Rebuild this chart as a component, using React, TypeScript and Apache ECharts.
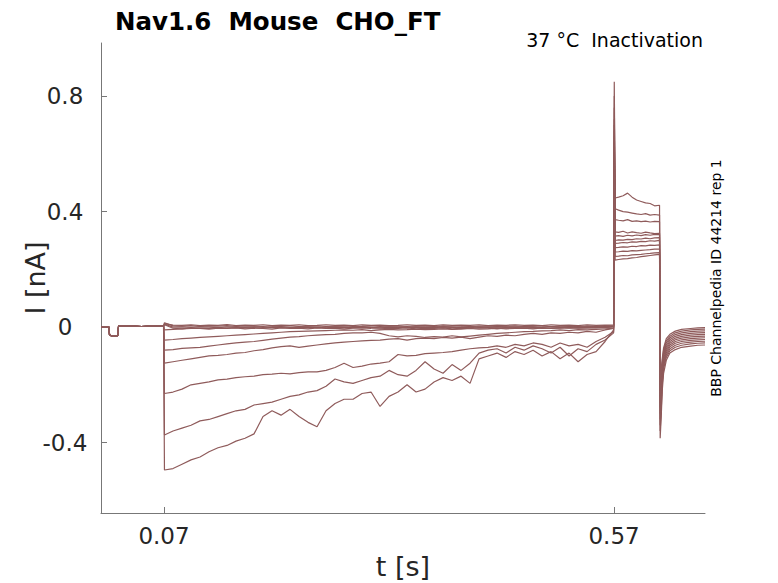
import React, { useEffect, useRef } from "react";
import * as echarts from "echarts";

// shared baseline before the conditioning step (s)
const preT = [0, 0.004, 0.0088, 0.0095, 0.014, 0.0185, 0.0195, 0.03, 0.045, 0.06, 0.0695];
const preI = [0.0, 0.002, 0.0, -0.028, -0.032, -0.03, 0.003, 0.004, 0.002, 0.004, 0.003];

// conditioning step 0.07 .. 0.57 s
const holdT = [
  0.0705, 0.08, 0.09, 0.1, 0.11, 0.12, 0.13, 0.14, 0.15, 0.16,
  0.17, 0.18, 0.19, 0.2, 0.21, 0.22, 0.23, 0.24, 0.25, 0.26,
  0.27, 0.28, 0.29, 0.3, 0.31, 0.32, 0.33, 0.34, 0.35, 0.36,
  0.37, 0.38, 0.39, 0.4, 0.41, 0.42, 0.43, 0.44, 0.45, 0.46,
  0.47, 0.48, 0.49, 0.5, 0.51, 0.52, 0.53, 0.54, 0.55, 0.56, 0.5695,
];
// test step
const testT = [0.5702, 0.5712, 0.575, 0.58, 0.585, 0.59, 0.595, 0.6, 0.605, 0.61, 0.615, 0.6205];
// tail after the test step
const tailT = [0.6212, 0.6225, 0.6235, 0.625, 0.628, 0.632, 0.638, 0.645, 0.655, 0.663, 0.671];

// current in nA at holdT + testT + tailT, one array per sweep
const sweep01 = [
  -0.495, -0.49, -0.475, -0.46, -0.45, -0.432, -0.418, -0.41, -0.395, -0.385,
  -0.37, -0.31, -0.29, -0.305, -0.285, -0.31, -0.33, -0.345, -0.29, -0.265,
  -0.25, -0.25, -0.23, -0.225, -0.275, -0.24, -0.225, -0.2, -0.225, -0.215,
  -0.19, -0.175, -0.185, -0.17, -0.195, -0.11, -0.1, -0.09, -0.105, -0.085,
  -0.095, -0.08, -0.1, -0.085, -0.11, -0.09, -0.12, -0.095, -0.085, -0.05, -0.01,
  0.85, 0.447, 0.45, 0.455, 0.464, 0.45, 0.44, 0.435, 0.43, 0.428, 0.42, 0.422,
  -0.385, -0.3, -0.22, -0.16, -0.115, -0.09, -0.078, -0.07, -0.066, -0.063, -0.062,
];
const sweep02 = [
  -0.374, -0.36, -0.35, -0.34, -0.325, -0.32, -0.31, -0.3, -0.29, -0.285,
  -0.27, -0.265, -0.26, -0.25, -0.24, -0.235, -0.225, -0.22, -0.205, -0.18,
  -0.19, -0.195, -0.185, -0.175, -0.17, -0.15, -0.165, -0.17, -0.15, -0.12,
  -0.145, -0.16, -0.13, -0.15, -0.125, -0.09, -0.08, -0.075, -0.09, -0.07,
  -0.08, -0.065, -0.075, -0.09, -0.07, -0.1, -0.075, -0.085, -0.06, -0.045, -0.02,
  0.8, 0.41, 0.405, 0.4, 0.398, 0.395, 0.392, 0.39, 0.393, 0.388, 0.39, 0.388,
  -0.36, -0.28, -0.2, -0.145, -0.105, -0.082, -0.07, -0.063, -0.058, -0.056, -0.055,
];
const sweep03 = [
  -0.23, -0.225, -0.215, -0.2, -0.195, -0.19, -0.183, -0.18, -0.175, -0.172,
  -0.17, -0.165, -0.163, -0.16, -0.162, -0.158, -0.155, -0.155, -0.15, -0.14,
  -0.125, -0.14, -0.135, -0.128, -0.125, -0.12, -0.095, -0.1, -0.098, -0.092,
  -0.09, -0.088, -0.085, -0.08, -0.075, -0.072, -0.07, -0.065, -0.07, -0.06,
  -0.065, -0.055, -0.06, -0.07, -0.055, -0.065, -0.06, -0.07, -0.05, -0.035, -0.015,
  0.76, 0.372, 0.37, 0.368, 0.372, 0.366, 0.368, 0.365, 0.367, 0.364, 0.366, 0.365,
  -0.34, -0.26, -0.19, -0.135, -0.097, -0.075, -0.063, -0.056, -0.052, -0.05, -0.049,
];
const sweep04 = [
  -0.125, -0.12, -0.115, -0.11, -0.105, -0.1, -0.098, -0.095, -0.09, -0.088,
  -0.082, -0.078, -0.072, -0.068, -0.065, -0.07, -0.066, -0.062, -0.058, -0.055,
  -0.052, -0.05, -0.048, -0.046, -0.045, -0.042, -0.04, -0.045, -0.04, -0.038,
  -0.04, -0.036, -0.038, -0.035, -0.04, -0.035, -0.03, -0.032, -0.028, -0.03,
  -0.025, -0.022, -0.025, -0.02, -0.022, -0.018, -0.02, -0.015, -0.018, -0.01, -0.005,
  0.72, 0.33, 0.328, 0.332, 0.326, 0.33, 0.327, 0.325, 0.329, 0.326, 0.324, 0.325,
  -0.32, -0.245, -0.18, -0.125, -0.09, -0.068, -0.056, -0.05, -0.046, -0.044, -0.043,
];
const sweep05 = [
  -0.08, -0.078, -0.074, -0.072, -0.07, -0.066, -0.062, -0.058, -0.055, -0.052,
  -0.05, -0.046, -0.042, -0.038, -0.035, -0.033, -0.03, -0.028, -0.026, -0.025,
  -0.022, -0.02, -0.02, -0.018, -0.022, -0.03, -0.034, -0.03, -0.032, -0.036,
  -0.033, -0.035, -0.03, -0.034, -0.031, -0.028, -0.025, -0.022, -0.02, -0.018,
  -0.016, -0.015, -0.013, -0.012, -0.01, -0.012, -0.009, -0.01, -0.008, -0.006, -0.004,
  0.7, 0.315, 0.317, 0.314, 0.318, 0.316, 0.319, 0.317, 0.32, 0.318, 0.321, 0.32,
  -0.3, -0.23, -0.17, -0.118, -0.083, -0.062, -0.05, -0.044, -0.04, -0.038, -0.037,
];
const sweep06 = [
  -0.045, -0.043, -0.04, -0.038, -0.036, -0.034, -0.032, -0.03, -0.028, -0.026,
  -0.024, -0.022, -0.02, -0.018, -0.016, -0.015, -0.014, -0.013, -0.012, -0.011,
  -0.01, -0.011, -0.009, -0.012, -0.01, -0.008, -0.01, -0.009, -0.007, -0.009,
  -0.008, -0.006, -0.008, -0.007, -0.005, -0.007, -0.006, -0.004, -0.006, -0.005,
  -0.004, -0.006, -0.003, -0.005, -0.004, -0.002, -0.004, -0.003, -0.002, -0.001, 0.0,
  0.68, 0.3, 0.302, 0.301, 0.304, 0.303, 0.306, 0.305, 0.308, 0.306, 0.309, 0.31,
  -0.28, -0.215, -0.16, -0.11, -0.076, -0.056, -0.044, -0.038, -0.034, -0.032, -0.031,
];
const sweep07 = [
  -0.01, -0.008, -0.006, -0.005, -0.004, -0.005, -0.003, -0.004, -0.002, -0.003,
  -0.002, -0.004, -0.001, -0.002, -0.003, 0.0, -0.002, -0.001, -0.003, 0.0,
  -0.001, -0.002, 0.0, -0.001, -0.003, -0.001, 0.0, -0.002, -0.001, 0.0,
  -0.002, 0.001, -0.001, 0.0, -0.002, 0.001, -0.001, 0.0, 0.001, -0.001,
  0.0, 0.001, -0.001, 0.001, 0.0, 0.002, -0.001, 0.001, 0.0, 0.002, 0.003,
  0.66, 0.29, 0.291, 0.293, 0.292, 0.295, 0.294, 0.297, 0.296, 0.299, 0.298, 0.3,
  -0.26, -0.2, -0.15, -0.102, -0.069, -0.05, -0.038, -0.032, -0.028, -0.026, -0.025,
];
const sweep08 = [
  0.015, 0.004, 0.003, 0.005, 0.002, 0.004, 0.003, 0.005, 0.002, 0.004,
  0.003, 0.002, 0.004, 0.003, 0.005, 0.002, 0.003, 0.004, 0.002, 0.003,
  0.004, 0.002, 0.003, 0.005, 0.002, 0.004, 0.003, 0.002, 0.004, 0.003,
  0.002, 0.004, 0.003, 0.005, 0.002, 0.003, 0.004, 0.002, 0.003, 0.004,
  0.002, 0.003, 0.005, 0.002, 0.004, 0.003, 0.002, 0.004, 0.003, 0.005, 0.004,
  0.64, 0.275, 0.276, 0.278, 0.277, 0.28, 0.279, 0.282, 0.281, 0.284, 0.283, 0.285,
  -0.24, -0.185, -0.14, -0.095, -0.062, -0.044, -0.032, -0.026, -0.022, -0.02, -0.019,
];
const sweep09 = [
  0.012, 0.007, 0.006, 0.008, 0.005, 0.007, 0.006, 0.009, 0.005, 0.007,
  0.006, 0.008, 0.005, 0.007, 0.006, 0.008, 0.005, 0.006, 0.008, 0.006,
  0.007, 0.005, 0.008, 0.006, 0.007, 0.005, 0.006, 0.008, 0.006, 0.007,
  0.005, 0.008, 0.006, 0.007, 0.006, 0.008, 0.005, 0.007, 0.006, 0.008,
  0.006, 0.007, 0.005, 0.008, 0.006, 0.007, 0.005, 0.008, 0.006, 0.007, 0.008,
  0.62, 0.26, 0.261, 0.263, 0.262, 0.265, 0.264, 0.266, 0.267, 0.268, 0.27, 0.27,
  -0.22, -0.17, -0.13, -0.088, -0.055, -0.038, -0.026, -0.02, -0.016, -0.014, -0.013,
];
const sweep10 = [
  0.01, 0.0, 0.001, -0.001, 0.001, 0.0, -0.002, 0.001, 0.0, -0.001,
  0.001, -0.001, 0.0, 0.002, -0.001, 0.0, 0.001, -0.002, 0.0, 0.001,
  -0.001, 0.0, 0.002, -0.001, 0.0, 0.001, -0.001, 0.0, 0.001, -0.002,
  0.0, 0.001, -0.001, 0.0, 0.002, -0.001, 0.0, 0.001, -0.001, 0.0,
  0.001, -0.001, 0.0, 0.002, 0.0, -0.001, 0.001, 0.0, 0.002, 0.001, 0.003,
  0.6, 0.245, 0.246, 0.248, 0.247, 0.25, 0.251, 0.252, 0.254, 0.255, 0.257, 0.258,
  -0.2, -0.155, -0.12, -0.08, -0.048, -0.032, -0.02, -0.014, -0.01, -0.008, -0.007,
];
const sweep11 = [
  0.008, -0.004, -0.006, -0.003, -0.005, -0.007, -0.004, -0.005, -0.003, -0.006,
  -0.004, -0.005, -0.007, -0.003, -0.005, -0.004, -0.006, -0.003, -0.005, -0.004,
  -0.006, -0.004, -0.003, -0.005, -0.006, -0.004, -0.005, -0.003, -0.006, -0.004,
  -0.005, -0.003, -0.006, -0.004, -0.005, -0.003, -0.004, -0.006, -0.003, -0.005,
  -0.004, -0.003, -0.005, -0.004, -0.002, -0.004, -0.003, -0.002, -0.003, -0.001, 0.002,
  0.58, 0.232, 0.234, 0.236, 0.237, 0.24, 0.241, 0.244, 0.246, 0.248, 0.25, 0.252,
  -0.18, -0.14, -0.11, -0.072, -0.04, -0.025, -0.014, -0.008, -0.005, -0.003, -0.002,
];

const sweeps = [
  sweep01, sweep02, sweep03, sweep04, sweep05, sweep06,
  sweep07, sweep08, sweep09, sweep10, sweep11,
];

const xTicks = [0.07, 0.57];
const yTicks = [-0.4, 0, 0.4, 0.8];

const traceColor = "#8f5b5b";
const font = "DejaVu Sans";

const App: React.FC = () => {
  const chartRef = useRef<HTMLDivElement | null>(null);

  useEffect(() => {
    if (!chartRef.current) return;
    document.body.style.margin = "0";

    const chart = echarts.init(chartRef.current, null, { renderer: "svg" });
    const stepT = [...holdT, ...testT, ...tailT];

    const series = sweeps.map((s) => ({
      type: "line" as const,
      data: [
        ...preT.map((t, i) => [t, preI[i]]),
        ...stepT.map((t, i) => [t, s[i]]),
      ],
      showSymbol: false,
      symbol: "none",
      lineStyle: { color: traceColor, width: 1.2 },
      itemStyle: { color: traceColor },
    }));

    const option: any = {
      animation: false,
      backgroundColor: "#ffffff",
      textStyle: { fontFamily: font },
      title: {
        text: "Nav1.6  Mouse  CHO_FT",
        left: 110,
        top: 4,
        textStyle: { fontSize: 24.5, fontWeight: "bold", color: "#000", fontFamily: font },
      },
      grid: { left: 101, right: 73, top: 43, bottom: 70, outerBoundsMode: "none", containLabel: false },
      xAxis: {
        type: "value",
        min: 0,
        max: 0.671,
        name: "t [s]",
        nameLocation: "middle",
        nameGap: 40,
        nameMoveOverlap: false,
        nameTextStyle: { fontSize: 27, color: "#262626", fontFamily: font },
        axisLine: { show: true, onZero: false, lineStyle: { color: "#777", width: 1 } },
        axisTick: { show: true, inside: true, length: 6, customValues: xTicks, lineStyle: { color: "#777" } },
        axisLabel: { customValues: xTicks, fontSize: 23, color: "#262626", margin: 11, fontFamily: font },
        splitLine: { show: false },
      },
      yAxis: {
        type: "value",
        min: -0.644,
        max: 0.984,
        name: "I [nA]",
        nameLocation: "middle",
        nameGap: 52,
        nameMoveOverlap: false,
        nameTextStyle: { fontSize: 27, color: "#262626", fontFamily: font },
        axisLine: { show: true, lineStyle: { color: "#777", width: 1 } },
        axisTick: { show: true, inside: true, length: 6, customValues: yTicks, lineStyle: { color: "#777" } },
        axisLabel: {
          customValues: yTicks,
          fontSize: 23,
          color: "#262626",
          margin: 36,
          align: "center",
          fontFamily: font,
          formatter: (v: number) => String(v),
        },
        splitLine: { show: false },
      },
      graphic: [
        {
          type: "text",
          right: 75,
          top: 30,
          style: { text: "37 °C  Inactivation", fontSize: 19, fill: "#000", fontFamily: font },
        },
        {
          type: "text",
          x: 716,
          y: 278,
          rotation: Math.PI / 2,
          style: {
            text: "BBP Channelpedia ID 44214 rep 1",
            fontSize: 14,
            fill: "#000",
            fontFamily: font,
            align: "center",
            verticalAlign: "middle",
          },
        },
      ],
      series,
    };

    chart.setOption(option);
    return () => chart.dispose();
  }, []);

  return <div ref={chartRef} style={{ width: "778px", height: "583px" }} />;
};

export default App;
